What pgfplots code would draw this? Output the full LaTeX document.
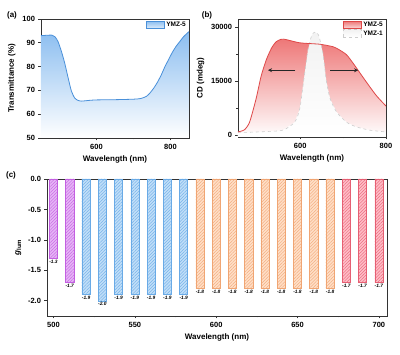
\documentclass[border=0pt]{standalone}
\usepackage{fontspec}
\setmainfont{Liberation Sans}
\usepackage{pgfplots}
\pgfplotsset{compat=1.18}
\usetikzlibrary{patterns,patterns.meta,arrows.meta}
\definecolor{blueL}{RGB}{74,144,217}
\definecolor{blueF}{RGB}{140,190,240}
\definecolor{redL}{RGB}{222,72,72}
\definecolor{redF}{RGB}{238,120,120}
\definecolor{grayL}{RGB}{205,205,205}
\definecolor{grayF}{RGB}{242,242,242}
\definecolor{purE}{RGB}{195,95,225}
\definecolor{purF}{RGB}{230,180,246}
\definecolor{bluE}{RGB}{105,170,230}
\definecolor{bluF}{RGB}{192,222,248}
\definecolor{oraE}{RGB}{240,165,115}
\definecolor{oraF}{RGB}{255,222,198}
\definecolor{redE}{RGB}{230,95,115}
\definecolor{redBF}{RGB}{255,188,198}
\pgfplotsset{
  orig/.style={
    scale only axis,
    anchor=south west,
    axis line style={line width=0.8pt, black!80},
    tick align=outside,
    tick pos=left,
    major tick length=2.5pt,
    minor tick length=1.5pt,
    every tick/.style={line width=0.6pt, black!80},
    tick label style={font=\bfseries\fontsize{7.5}{8}\selectfont},
    label style={font=\bfseries\fontsize{8}{9}\selectfont},
    scaled ticks=false,
    /pgf/number format/assume math mode=true,
    /pgf/number format/1000 sep={},
    legend style={draw=none, fill=none, font=\bfseries\fontsize{6.5}{7}\selectfont, inner sep=1pt, row sep=-1.5pt, at={(1,1)}, anchor=north east},
    legend cell align=left,
  },
  hbar/.style n args={2}{ybar, bar width=5, draw=#1, line width=0.5pt, fill=#2,
    postaction={pattern={Lines[angle=45,distance=2.2pt,line width=0.35pt]}, pattern color=#1},
    nodes near coords={\pgfmathprintnumber[fixed,fixed zerofill,precision=1]{\pgfplotspointmeta}},
    every node near coord/.append style={font=\bfseries\itshape\fontsize{4.8}{5}\selectfont, text=black, inner sep=1.5pt}},
}
\begin{document}
\begin{tikzpicture}
\path (0pt,0pt) rectangle (400pt,355pt);
\node[font=\bfseries\fontsize{8}{9}\selectfont] at (12pt,340pt) {(a)};
\node[font=\bfseries\fontsize{8}{9}\selectfont] at (207pt,340pt) {(b)};
\node[font=\bfseries\fontsize{8}{9}\selectfont] at (11pt,180pt) {(c)};
% ---------- (a)
\begin{axis}[orig, at={(41pt,217pt)}, width=148pt, height=119pt,
  xmin=450, xmax=850, ymin=50, ymax=100,
  xtick={600,800}, minor xtick={500,700}, ytick={50,60,...,100},
  xlabel={Wavelength (nm)}, ylabel={Transmittance (\%)}]
\addlegendimage{legend image code/.code={\draw[draw=blueL, line width=0.5pt, top color=blueF, bottom color=blueF!25] (0pt,-3.5pt) rectangle (18pt,4pt);}}
\addlegendentry{YMZ-5}
\addplot[draw=none, top color=blueF, bottom color=white, forget plot] coordinates {
(450,50) (450,93.0) (470,93.2) (480,93.2) (488,92.5) (496,90.5) (505,86.5) (514,81.5) (523,75.5) (532,69.8) (541,66.8) (550,65.8) (560,65.5) (580,65.8) (600,66.0) (650,66.1) (700,66.3) (720,66.6) (735,67.5) (745,69.0) (755,71.0) (765,73.5) (775,76.5) (785,80.0) (795,83.0) (805,86.0) (815,88.5) (825,90.5) (835,92.5) (845,94.0) (850,94.7) (850,50)};
\addplot[blueL, line width=0.8pt, smooth, tension=0.4, forget plot] coordinates {
(450,93.0) (470,93.2) (480,93.2) (488,92.5) (496,90.5) (505,86.5) (514,81.5) (523,75.5) (532,69.8) (541,66.8) (550,65.8) (560,65.5) (580,65.8) (600,66.0) (650,66.1) (700,66.3) (720,66.6) (735,67.5) (745,69.0) (755,71.0) (765,73.5) (775,76.5) (785,80.0) (795,83.0) (805,86.0) (815,88.5) (825,90.5) (835,92.5) (845,94.0) (850,94.7)};
\end{axis}
% ---------- (b)
\begin{axis}[orig, at={(238pt,218pt)}, width=148pt, height=118pt,
  xmin=455, xmax=800, ymin=-500, ymax=32200,
  xtick={600,800}, minor xtick={500,700}, ytick={0,15000,30000}, minor ytick={7500,22500},
  xlabel={Wavelength (nm)}, ylabel={CD (mdeg)}]
\addlegendimage{legend image code/.code={\draw[draw=redL, line width=0.5pt, top color=redF, bottom color=redF!25] (0pt,-3.5pt) rectangle (18pt,4pt);}}
\addlegendentry{YMZ-5}
\addlegendimage{legend image code/.code={\draw[draw=grayL, dashed, line width=0.5pt, top color=grayF, bottom color=white] (0pt,-3.5pt) rectangle (18pt,4pt);}}
\addlegendentry{YMZ-1}
\addplot[draw=none, top color=redF, bottom color=white, forget plot] coordinates {
(455,-500) (455,900) (470,1500) (482,3600) (497,10000) (509,16400) (521,20900) (533,24100) (544,25900) (556,26600) (567,26500) (599,25600) (646,25200) (677,24500) (692,23600) (708,22300) (723,20000) (739,17300) (758,14100) (778,10900) (799,8200) (800,8100) (800,-500)};
\addplot[draw=none, top color=grayF, bottom color=white, forget plot] coordinates {
(455,-500) (455,700) (520,1000) (560,1400) (587,3600) (599,7300) (608,15000) (618,23600) (627,27700) (635,28600) (643,27700) (653,22700) (661,15000) (670,10000) (685,6400) (708,3600) (731,2300) (762,1400) (800,900) (800,-500)};
\addplot[grayL, dashed, line width=0.6pt, smooth, tension=0.4, forget plot] coordinates {
(455,700) (520,1000) (560,1400) (587,3600) (599,7300) (608,15000) (618,23600) (627,27700) (635,28600) (643,27700) (653,22700) (661,15000) (670,10000) (685,6400) (708,3600) (731,2300) (762,1400) (800,900)};
\addplot[redL, line width=0.8pt, smooth, tension=0.4, forget plot] coordinates {
(455,900) (470,1500) (482,3600) (497,10000) (509,16400) (521,20900) (533,24100) (544,25900) (556,26600) (567,26500) (599,25600) (646,25200) (677,24500) (692,23600) (708,22300) (723,20000) (739,17300) (758,14100) (778,10900) (799,8200) (800,8100)};
\draw[-{Stealth[length=4pt,width=4pt]}, line width=0.9pt, black!85] (axis cs:589,18000) -- (axis cs:525,18000);
\draw[-{Stealth[length=4pt,width=4pt]}, line width=0.9pt, black!85] (axis cs:670,18000) -- (axis cs:735,18000);
\end{axis}
% ---------- (c)
\begin{axis}[orig, at={(47pt,39pt)}, width=340pt, height=137pt,
  xmin=496, xmax=705, ymin=-2.25, ymax=0,
  xtick={500,550,...,700}, minor xtick={525,575,625,675},
  ytick={-2,-1.5,...,0},
  yticklabel style={/pgf/number format/.cd, fixed, fixed zerofill, precision=1},
  xlabel={Wavelength (nm)}, ylabel={\textit{g}\textsubscript{lum}}]
\addplot[hbar={purE}{purF}] coordinates {(500,-1.3) (510,-1.7)};
\addplot[hbar={bluE}{bluF}] coordinates {(520,-1.9) (530,-2.0) (540,-1.9) (550,-1.9) (560,-1.9) (570,-1.9) (580,-1.9)};
\addplot[hbar={oraE}{oraF}] coordinates {(590,-1.8) (600,-1.8) (610,-1.8) (620,-1.8) (630,-1.8) (640,-1.8) (650,-1.8) (660,-1.8) (670,-1.8)};
\addplot[hbar={redE}{redBF}] coordinates {(680,-1.7) (690,-1.7) (700,-1.7)};
\end{axis}
\end{tikzpicture}
\end{document}
